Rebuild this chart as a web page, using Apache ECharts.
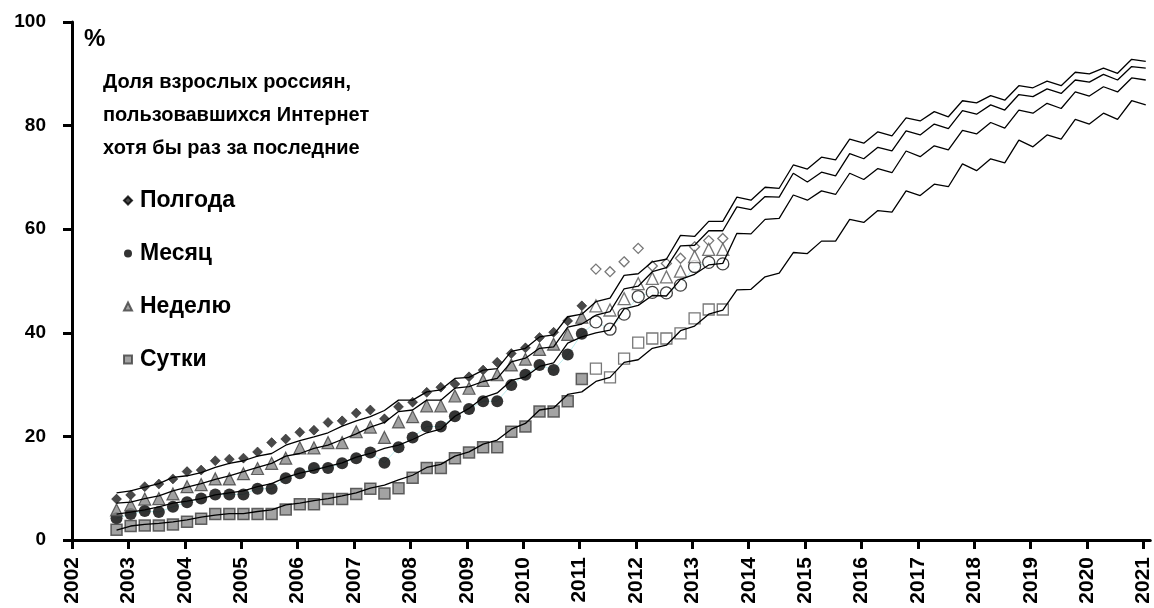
<!DOCTYPE html>
<html>
<head>
<meta charset="utf-8">
<script src="https://cdn.jsdelivr.net/npm/echarts@6/dist/echarts.min.js"></script>
<style>
html, body { margin: 0; padding: 0; background: #fff; }
#chart { width: 1154px; height: 608px; }
</style>
</head>
<body>
<div id="chart"></div>
<script>
// quarterly survey points, 4th quarter 2002 onward
var firstQuarter = 2002.79;
var yearTicks = [2002, 2003, 2004, 2005, 2006, 2007, 2008, 2009, 2010, 2011,
    2012, 2013, 2014, 2015, 2016, 2017, 2018, 2019, 2020, 2021];

// observed shares, %, first 34 quarters are filled markers, the rest open
var filledCount = 34;
var halfYear = [7.9, 8.7, 10.3, 10.8, 11.8, 13.2, 13.5, 15.3, 15.6, 15.8, 17.0, 18.8, 19.5, 20.8, 21.2, 22.7,
    23.0, 24.5, 25.1, 23.4, 25.7, 26.6, 28.5, 29.5, 30.1, 31.5, 32.8, 34.3, 36.0, 37.1, 39.1, 40.1, 42.3, 45.2,
    52.3, 51.8, 53.7, 56.3, 52.9, 53.4, 54.4, 56.6, 57.8, 58.2];
var month = [4.2, 5.0, 5.6, 5.4, 6.4, 7.3, 8.0, 8.8, 8.8, 8.8, 9.9, 9.9, 11.9, 12.9, 13.9, 13.9,
    14.8, 15.8, 16.9, 14.9, 17.9, 19.8, 21.9, 21.9, 23.9, 25.3, 26.8, 26.8, 29.9, 31.9, 33.8, 32.8, 35.8, 39.8,
    42.1, 40.7, 43.6, 47.0, 47.8, 47.7, 49.2, 52.8, 53.6, 53.3];
var week = [5.8, 6.8, 7.9, 8.0, 8.9, 10.3, 10.7, 11.8, 11.8, 12.8, 13.8, 14.8, 15.8, 17.8, 17.8, 18.8,
    18.8, 20.9, 21.8, 19.8, 22.8, 23.8, 25.9, 25.9, 27.8, 29.3, 30.8, 31.9, 33.8, 34.9, 36.8, 37.8, 39.7, 43.0,
    45.2, 44.4, 46.6, 49.5, 50.5, 50.8, 51.9, 54.7, 56.1, 56.1];
var day = [2.0, 2.7, 2.8, 2.8, 3.0, 3.5, 4.1, 5.0, 5.0, 5.0, 5.0, 5.0, 5.9, 6.9, 6.9, 7.9,
    7.9, 8.9, 9.9, 9.0, 10.0, 12.0, 13.9, 13.9, 15.8, 16.9, 17.9, 17.9, 20.9, 21.9, 24.8, 24.8, 26.8, 31.1,
    33.1, 31.4, 35.0, 38.1, 38.9, 38.9, 39.9, 42.8, 44.5, 44.5];

// model curves (to 2021)
var halfYearModel = [9.1, 9.5, 10.2, 10.9, 12.1, 12.4, 13.0, 14.0, 14.8, 15.3, 16.2, 16.7, 18.3, 19.2, 19.9, 20.7, 22.0, 23.0, 23.8, 25.0,
    27.0, 27.0, 28.6, 29.0, 31.2, 31.4, 32.8, 33.1, 36.4, 37.0, 39.2, 39.6, 43.1, 43.6, 46.0, 46.7, 51.1, 51.4, 53.7, 54.2,
    58.8, 58.6, 61.5, 61.5, 66.2, 65.6, 68.1, 67.9, 72.4, 71.6, 73.9, 73.4, 77.4, 76.6, 78.8, 78.0, 81.5, 80.9, 82.7, 81.7,
    84.8, 84.4, 85.8, 84.9, 87.7, 87.3, 88.6, 87.7, 90.3, 90.0, 91.1, 90.1, 92.8, 92.4];
var weekModel = [7.1, 7.3, 8.0, 8.5, 9.5, 10.2, 10.9, 11.7, 12.4, 13.2, 14.0, 14.8, 16.2, 16.7, 17.7, 18.3, 19.4, 20.5, 21.8, 22.7,
    24.8, 25.1, 27.0, 27.0, 29.3, 29.6, 30.6, 31.2, 34.4, 35.1, 37.0, 37.3, 41.1, 41.7, 43.4, 44.1, 48.5, 49.0, 51.8, 52.6,
    56.8, 56.9, 59.7, 59.7, 64.3, 63.8, 66.3, 66.2, 70.8, 69.1, 71.0, 70.3, 74.6, 73.6, 75.8, 75.1, 79.0, 78.2, 80.3, 79.4,
    82.9, 82.2, 84.0, 83.0, 86.0, 85.6, 87.1, 86.2, 88.8, 88.4, 89.9, 88.8, 91.4, 91.1];
var monthModel = [5.0, 5.4, 5.8, 6.4, 7.1, 7.5, 8.0, 8.7, 9.1, 9.5, 10.3, 10.9, 12.1, 12.9, 13.5, 14.2, 14.9, 16.0, 16.7, 17.7,
    18.3, 19.4, 20.7, 21.4, 23.9, 25.4, 27.5, 28.4, 30.8, 31.5, 33.5, 34.2, 38.0, 39.2, 40.0, 40.5, 44.6, 45.3, 47.2, 47.1,
    50.3, 51.3, 53.1, 53.4, 59.2, 59.1, 61.9, 62.1, 66.6, 65.6, 67.4, 66.7, 70.8, 69.6, 71.7, 70.9, 75.1, 74.0, 76.1, 75.3,
    79.1, 78.4, 80.6, 79.5, 83.0, 82.4, 84.3, 83.3, 86.5, 85.7, 87.5, 86.5, 89.2, 88.8];
var dayModel = [1.9, 2.7, 3.0, 3.2, 3.5, 3.9, 4.4, 4.8, 5.1, 5.1, 5.5, 5.8, 6.8, 7.1, 7.6, 8.0, 8.5, 9.1, 10.0, 10.6,
    11.6, 12.5, 14.0, 14.6, 16.2, 17.0, 18.5, 19.3, 21.4, 22.5, 25.1, 25.5, 28.1, 28.6, 30.6, 31.4, 34.3, 34.8, 37.0, 37.6,
    40.4, 41.3, 43.6, 44.4, 48.3, 48.4, 50.8, 51.5, 55.5, 55.3, 57.7, 57.7, 61.9, 61.3, 63.6, 63.3, 67.4, 66.5, 68.7, 68.2,
    72.6, 71.3, 73.6, 72.8, 77.2, 75.9, 78.2, 77.4, 81.2, 80.3, 82.4, 81.2, 84.8, 84.0];

var titleLines = ['Доля взрослых россиян,', 'пользовавшихся Интернет', 'хотя бы раз за последние'];
var font = 'Liberation Sans, Arial, sans-serif';

function quarter(i) {
    return +(firstQuarter + 0.25 * i).toFixed(3);
}
function pts(arr, from, to) {
    var out = [];
    for (var i = from; i < to; i++) out.push([quarter(i), arr[i]]);
    return out;
}

function marker(name, arr, symbol, size, style, from, to) {
    return {
        name: name, type: 'scatter', symbol: symbol, symbolSize: size,
        data: pts(arr, from, to), itemStyle: style, z: 3, silent: true
    };
}
function model(arr) {
    return {
        type: 'line', data: pts(arr, 0, arr.length), symbol: 'none', z: 4, silent: true,
        lineStyle: { color: '#000', width: 1.3 }
    };
}

var openStyle = { color: '#fff', borderColor: '#555', borderWidth: 1.3 };

var chart = echarts.init(document.getElementById('chart'));
chart.setOption({
    animation: false,
    textStyle: { fontFamily: font },
    grid: { left: 72, right: 0, top: 22, bottom: 68 },
    legend: {
        orient: 'vertical', left: 118, top: 184, itemGap: 30,
        itemWidth: 8, itemHeight: 8,
        data: ['Полгода', 'Месяц', 'Неделю', 'Сутки'],
        textStyle: { fontSize: 23, fontWeight: 'bold', color: '#000', padding: [0, 0, 0, 3] },
        selectedMode: false
    },
    xAxis: {
        type: 'value', min: 2002, max: 2021.12,
        axisLine: { lineStyle: { color: '#000', width: 3 } },
        axisTick: { customValues: yearTicks, length: 9, lineStyle: { color: '#000', width: 3 } },
        axisLabel: {
            customValues: yearTicks, rotate: 90, margin: 17,
            fontSize: 21, fontWeight: 'bold', color: '#000', fontFamily: font,
            formatter: function (v) { return String(v); }
        },
        splitLine: { show: false }
    },
    yAxis: {
        type: 'value', min: 0, max: 100, interval: 20,
        axisLine: { show: true, lineStyle: { color: '#000', width: 3 } },
        axisTick: { show: true, length: 9, lineStyle: { color: '#000', width: 3 } },
        axisLabel: { margin: 26, fontSize: 19, fontWeight: 'bold', color: '#000', fontFamily: font },
        splitLine: { show: false }
    },
    graphic: [
        { type: 'text', left: 84, top: 27, style: { text: '%', font: 'bold 24px ' + font, fill: '#000' } },
        { type: 'text', left: 103, top: 66, style: { text: titleLines.join('\n'), font: 'bold 20px ' + font, fill: '#000', lineHeight: 33 } }
    ],
    series: [
        { type: 'line', data: pts(month, 0, month.length), symbol: 'none', z: 2, silent: true,
          lineStyle: { color: '#bfeff0', width: 1 } },
        marker('Полгода', halfYear, 'diamond', 10, { color: '#1c1c1c', borderColor: '#000', borderWidth: 0.5 }, 0, filledCount),
        marker('Месяц', month, 'circle', 12, { color: '#000' }, 0, filledCount),
        marker('Неделю', week, 'triangle', 12, { color: '#8a8a8a', borderColor: '#404040', borderWidth: 1.2 }, 0, filledCount),
        marker('Сутки', day, 'rect', 11, { color: '#8c8c8c', borderColor: '#404040', borderWidth: 1.5 }, 0, filledCount),
        marker('Полгода, прогноз', halfYear, 'diamond', 10, openStyle, filledCount, halfYear.length),
        marker('Месяц, прогноз', month, 'circle', 12, { color: '#fff', borderColor: '#111', borderWidth: 1.3 }, filledCount, month.length),
        marker('Неделю, прогноз', week, 'triangle', 12, openStyle, filledCount, week.length),
        marker('Сутки, прогноз', day, 'rect', 11, openStyle, filledCount, day.length),
        model(halfYearModel),
        model(weekModel),
        model(monthModel),
        model(dayModel)
    ]
});
</script>
</body>
</html>
